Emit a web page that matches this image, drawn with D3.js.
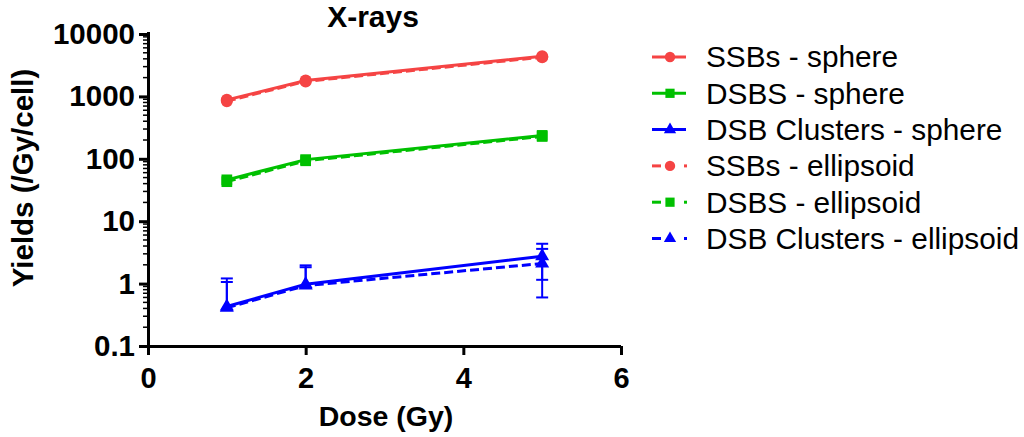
<!DOCTYPE html>
<html>
<head>
<meta charset="utf-8">
<script src="https://cdn.jsdelivr.net/npm/d3@7"></script>
<style>
  html, body { margin: 0; padding: 0; background: #fff; }
  svg { display: block; font-family: "Liberation Sans", Arial, sans-serif; }
</style>
</head>
<body>
<svg id="chart" width="1024" height="437"></svg>
<script>
// Dose points (Gy)
const doses = [1, 2, 5];

// Yields per Gy per cell
const ssbSphere = [880, 1800, 4400];
const dsbSphere = [46, 97, 237];
const clusterSphere = [0.43, 0.98, 2.75];
const ssbEllipsoid = [840, 1740, 4250];
const dsbEllipsoid = [43, 93, 228];
const clusterEllipsoid = [0.41, 0.93, 2.1];

// Error (SD) on cluster yields
const clusterSphereErr = [0.78, 0.98, 1.6];
const clusterEllipsoidErr = [0.65, 0.9, 1.5];

// Axis ticks
const xTicks = [0, 2, 4, 6];
const yTicks = [0.1, 1, 10, 100, 1000, 10000];

const seriesNames = [
  "SSBs - sphere", "DSBS - sphere", "DSB Clusters - sphere",
  "SSBs - ellipsoid", "DSBS - ellipsoid", "DSB Clusters - ellipsoid"
];

const RED = "#f54444", GREEN = "#00c000", BLUE = "#0000ff";

const series = [
  { name: seriesNames[0], values: ssbSphere, color: RED, shape: d3.symbolCircle, dashed: false },
  { name: seriesNames[1], values: dsbSphere, color: GREEN, shape: d3.symbolSquare, dashed: false },
  { name: seriesNames[2], values: clusterSphere, err: clusterSphereErr, color: BLUE, shape: d3.symbolTriangle, dashed: false },
  { name: seriesNames[3], values: ssbEllipsoid, color: RED, shape: d3.symbolCircle, dashed: true },
  { name: seriesNames[4], values: dsbEllipsoid, color: GREEN, shape: d3.symbolSquare, dashed: true },
  { name: seriesNames[5], values: clusterEllipsoid, err: clusterEllipsoidErr, color: BLUE, shape: d3.symbolTriangle, dashed: true }
];

const svg = d3.select("#chart");
const plotLeft = 148, plotRight = 621, plotTop = 34, plotBottom = 346;

const x = d3.scaleLinear().domain([0, 6]).range([plotLeft, plotRight]);
const y = d3.scaleLog().domain([0.1, 10000]).range([plotBottom, plotTop]);

// Axes
const xAxis = d3.axisBottom(x).tickValues(xTicks).tickFormat(d3.format("d"))
  .tickSize(9).tickSizeOuter(0);
const gx = svg.append("g").attr("transform", `translate(0,${plotBottom})`).call(xAxis);
gx.select(".domain").attr("stroke", "#000").attr("stroke-width", 3)
  .attr("d", `M${plotLeft - 9},0.5H${plotRight}`);
gx.selectAll(".tick line").attr("stroke", "#000").attr("stroke-width", 3);
gx.selectAll(".tick text").attr("font-size", 29).attr("font-weight", "bold")
  .attr("fill", "#000").attr("dy", null).attr("y", 42);

// Minor ticks on log axis
const minor = [];
for (let e = -1; e < 4; e++) {
  for (let k = 2; k <= 9; k++) minor.push(k * Math.pow(10, e));
}
svg.append("g").selectAll("line").data(minor).join("line")
  .attr("x1", plotLeft - 5).attr("x2", plotLeft)
  .attr("y1", d => y(d)).attr("y2", d => y(d))
  .attr("stroke", "#000").attr("stroke-width", 1.5);

const yAxis = d3.axisLeft(y).tickValues(yTicks).tickFormat(d => d3.format("~g")(d))
  .tickSize(9).tickSizeOuter(0);
const gy = svg.append("g").attr("transform", `translate(${plotLeft},0)`).call(yAxis);
gy.select(".domain").attr("stroke", "#000").attr("stroke-width", 3)
  .attr("d", `M0.5,${plotBottom + 1.5}V${plotTop - 2}`);
gy.selectAll(".tick line").attr("stroke", "#000").attr("stroke-width", 3);
gy.selectAll(".tick text").attr("font-size", 29.5).attr("font-weight", "bold")
  .attr("fill", "#000").attr("x", -13);

// Titles
svg.append("text").attr("x", 373).attr("y", 27).attr("text-anchor", "middle")
  .attr("font-size", 30).attr("font-weight", "bold").text("X-rays");
svg.append("text").attr("x", 386).attr("y", 426).attr("text-anchor", "middle")
  .attr("font-size", 28.5).attr("font-weight", "bold").text("Dose (Gy)");
svg.append("text").attr("transform", "translate(33,178) rotate(-90)")
  .attr("text-anchor", "middle").attr("font-size", 29.5).attr("font-weight", "bold")
  .text("Yields (/Gy/cell)");

const line = d3.line().x(d => x(d[0])).y(d => y(d[1]));
const sym = (shape) => d3.symbol().type(shape).size(shape === d3.symbolTriangle ? 85 : 115);

const plot = svg.append("g");

// Error bars
series.filter(s => s.err).forEach(s => {
  const g = plot.append("g").attr("stroke", s.color).attr("stroke-width", 2);
  s.values.forEach((v, i) => {
    const cx = x(doses[i]);
    const hi = v + s.err[i];
    const lo = v - s.err[i];
    g.append("line").attr("x1", cx).attr("x2", cx).attr("y1", y(v)).attr("y2", y(hi));
    g.append("line").attr("x1", cx - 6).attr("x2", cx + 6).attr("y1", y(hi)).attr("y2", y(hi));
    if (lo > 0.1) {
      g.append("line").attr("x1", cx).attr("x2", cx).attr("y1", y(v)).attr("y2", y(lo));
      g.append("line").attr("x1", cx - 6).attr("x2", cx + 6).attr("y1", y(lo)).attr("y2", y(lo));
    }
  });
});

// Lines and markers
series.forEach(s => {
  const pts = doses.map((d, i) => [d, s.values[i]]);
  plot.append("path").datum(pts).attr("d", line)
    .attr("fill", "none").attr("stroke", s.color).attr("stroke-width", 3)
    .attr("stroke-dasharray", s.dashed ? "9,4" : null);
  plot.append("g").selectAll("path").data(pts).join("path")
    .attr("transform", d => `translate(${x(d[0])},${y(d[1])})`)
    .attr("d", sym(s.shape)).attr("fill", s.color);
});

// Legend
const legend = svg.append("g");
series.forEach((s, i) => {
  const ly = 57 + i * 36.3;
  const g = legend.append("g").attr("transform", `translate(0,${ly})`);
  if (s.dashed) {
    g.append("line").attr("x1", 652).attr("x2", 661).attr("y1", 0).attr("y2", 0)
      .attr("stroke", s.color).attr("stroke-width", 3);
    g.append("line").attr("x1", 684).attr("x2", 687).attr("y1", 0).attr("y2", 0)
      .attr("stroke", s.color).attr("stroke-width", 3);
  } else {
    g.append("line").attr("x1", 652).attr("x2", 686).attr("y1", 0).attr("y2", 0)
      .attr("stroke", s.color).attr("stroke-width", 3);
  }
  g.append("path").attr("transform", "translate(670,0)")
    .attr("d", d3.symbol().type(s.shape).size(s.shape === d3.symbolTriangle ? 65 : 85)())
    .attr("fill", s.color);
  g.append("text").attr("x", 706).attr("y", 0).attr("dy", "0.35em")
    .attr("font-size", 29.8).attr("fill", "#000").text(s.name);
});
</script>
</body>
</html>
